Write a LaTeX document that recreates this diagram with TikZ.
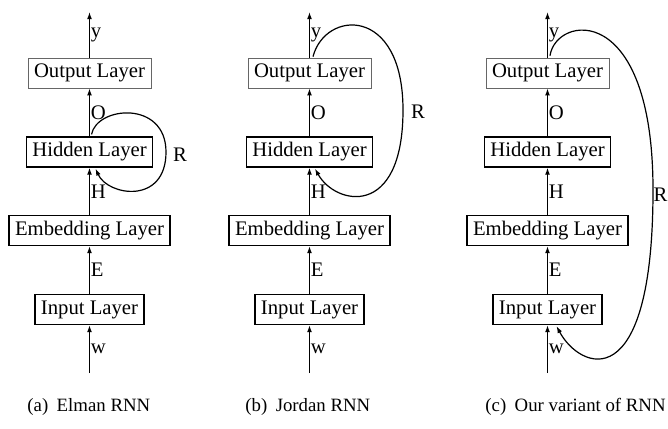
\documentclass[tikz,border=0pt]{standalone}
\usepackage{fontspec}
\setmainfont{Liberation Serif}
\usetikzlibrary{arrows.meta,calc}
\tikzset{
  layer/.style={draw, line width=0.6pt, minimum height=15pt, inner xsep=3pt, inner ysep=1pt, font=\fontsize{10.35}{12}\selectfont},
  thinlayer/.style={layer, draw=black!60, line width=0.35pt},
  arr/.style={line width=0.6pt, -{Latex[length=3.5pt,width=2.4pt]}},
  lab/.style={anchor=west, inner sep=0.4pt, font=\fontsize{10.35}{12}\selectfont},
  rlab/.style={inner sep=0pt, font=\fontsize{10.35}{12}\selectfont},
  captext/.style={anchor=base west, inner sep=0pt, font=\fontsize{9.4}{11}\selectfont},
}
\begin{document}
\begin{tikzpicture}[x=0.5pt,y=-0.5pt]
\useasboundingbox (0,0) rectangle (668,428);
\foreach \c/\x in {a/89.5,b/309.5,c/547.5}{
  \node[thinlayer, minimum width=61.5pt] (out\c) at (\x,73) {Output Layer};
  \node[layer, minimum width=63pt] (hid\c) at (\x,152) {Hidden Layer};
  \node[layer, minimum width=80.5pt] (emb\c) at (\x,230.5) {Embedding Layer};
  \node[layer, minimum width=54.5pt] (inp\c) at (\x,309.5) {Input Layer};
  \coordinate (top\c) at (\x,12);
  \coordinate (bot\c) at (\x,373);
  \draw[arr] (out\c) -- node[lab]{y} (top\c);
  \draw[arr] (hid\c) -- node[lab]{O} (out\c);
  \draw[arr] (emb\c) -- node[lab]{H} (hid\c);
  \draw[arr] (inp\c) -- node[lab]{E} (emb\c);
  \draw[arr] (bot\c) -- node[lab]{w} (inp\c);
}
% Elman
\draw[arr] ($(hida.north)+(2,-2)$) .. controls (97,106) and (166,100) .. (166,152)
  .. controls (166,205) and (108,196) .. ($(hida.south)+(6,1)$);
\node[rlab] (ra) at (180,155) {R};
% Jordan
\draw[arr] ($(outb.north)+(3.5,-1)$) .. controls (325,10) and (403,5) .. (403,110)
  .. controls (403,220) and (335,205) .. ($(hidb.south)+(5.5,1)$);
\node[rlab] (rb) at (418,112) {R};
% Variant
\draw[arr] ($(outc.north)+(2.5,-2)$) .. controls (556,15) and (653,0) .. (653,190)
  .. controls (653,400) and (580,370) .. ($(inpc.south)+(9,1)$);
\node[rlab] (rc) at (660.5,195) {R};
% captions
\node[captext] (capa) at (27,411) {(a)\hspace{0.45em}Elman RNN};
\node[captext] (capb) at (245,411) {(b)\hspace{0.45em}Jordan RNN};
\node[captext] (capc) at (485,411) {(c)\hspace{0.45em}Our variant of RNN};
\end{tikzpicture}
\end{document}
